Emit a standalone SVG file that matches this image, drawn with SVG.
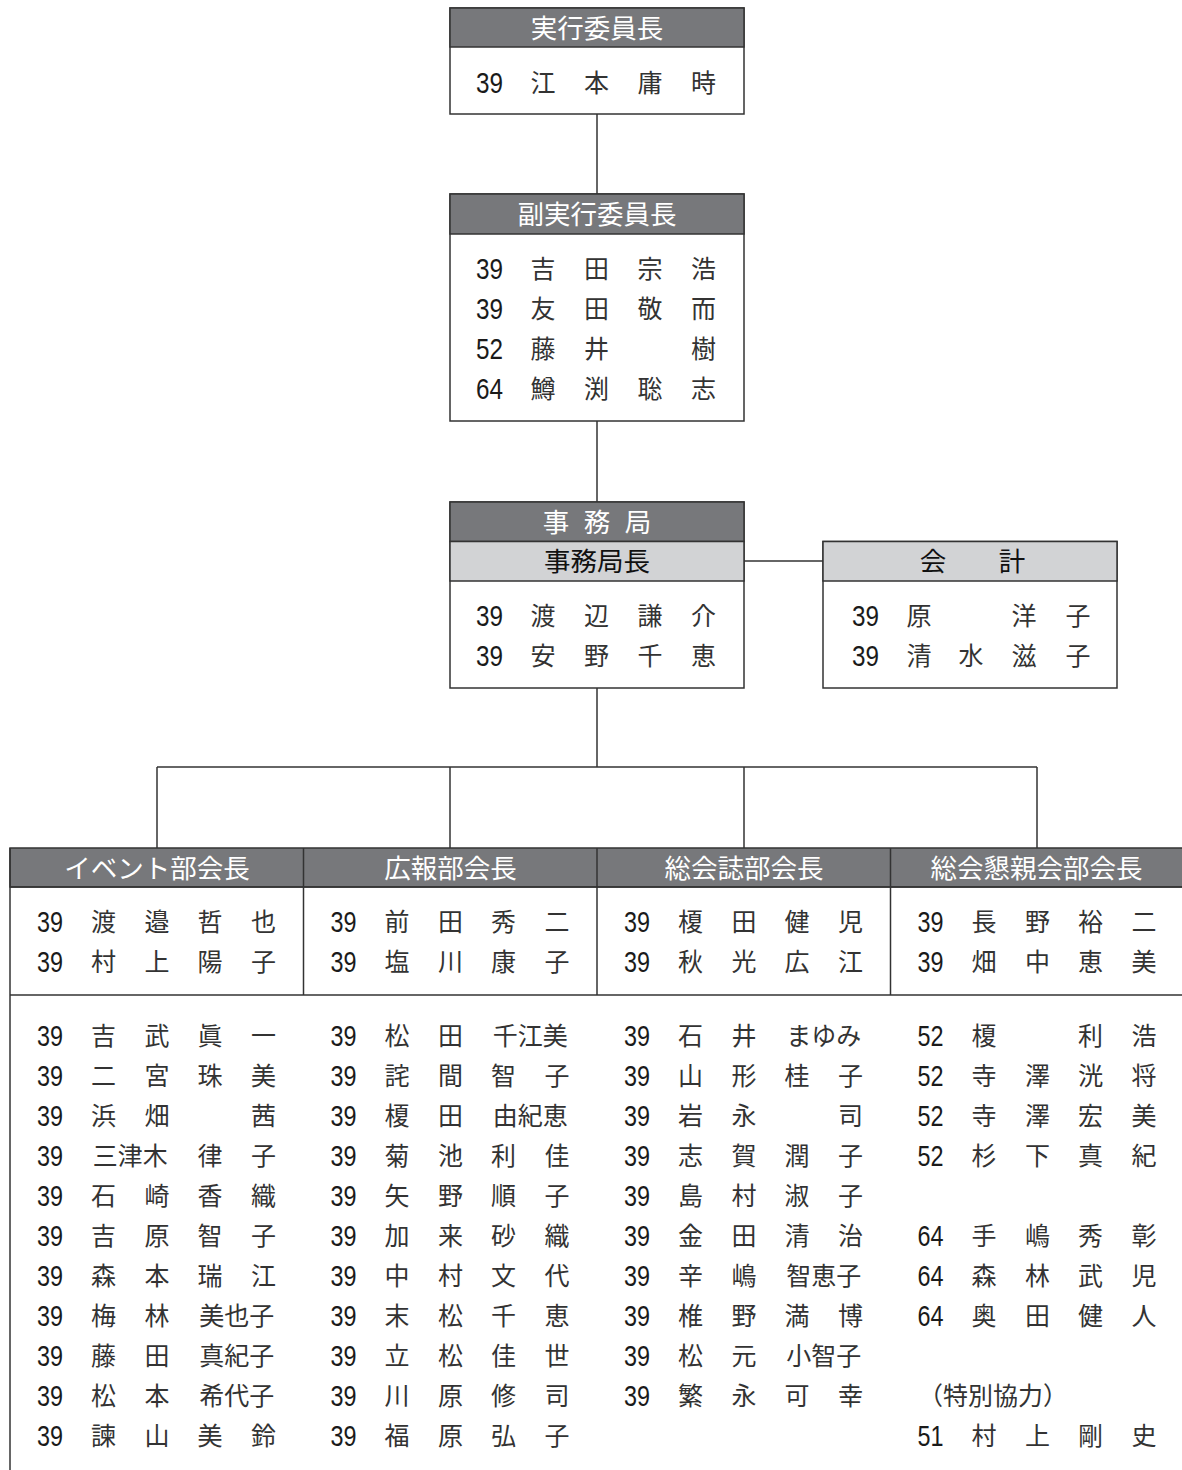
<svg xmlns="http://www.w3.org/2000/svg" width="1182" height="1470" viewBox="0 0 1182 1470">
<style>
.bg{fill:#fff}
.bx{fill:#fff;stroke:#333;stroke-width:1.5}
.hd{fill:#77787b;stroke:#333;stroke-width:1.5}
.lh{fill:#d2d3d5;stroke:#333;stroke-width:1.5}
.ln{fill:none;stroke:#333;stroke-width:1.5}
.ht{font-family:"Noto Sans CJK JP","Noto Sans CJK SC",sans-serif;font-size:26.5px;fill:#fff;text-anchor:middle}
.lt{font-family:"Noto Sans CJK JP","Noto Sans CJK SC",sans-serif;font-size:26.5px;fill:#111;text-anchor:middle}
.n{font-family:"Liberation Sans",Arial,sans-serif;font-size:30px;fill:#1a1a1a}
.k{font-family:"Noto Sans CJK JP","Noto Sans CJK SC",sans-serif;font-size:25px;fill:#333;text-anchor:middle}
.ks{font-family:"Noto Sans CJK JP","Noto Sans CJK SC",sans-serif;font-size:25px;fill:#333}
</style>
<rect class="bg" x="0" y="0" width="1182" height="1470"/>

<g id="connectors">
<line class="ln" x1="597" y1="114" x2="597" y2="194"/>
<line class="ln" x1="597" y1="421" x2="597" y2="502"/>
<line class="ln" x1="744" y1="561" x2="823" y2="561"/>
<line class="ln" x1="597" y1="688" x2="597" y2="767"/>
<line class="ln" x1="157" y1="767" x2="1037" y2="767"/>
<line class="ln" x1="157" y1="767" x2="157" y2="848"/>
<line class="ln" x1="450" y1="767" x2="450" y2="848"/>
<line class="ln" x1="744" y1="767" x2="744" y2="848"/>
<line class="ln" x1="1037" y1="767" x2="1037" y2="848"/>
</g>

<g id="chair" transform="translate(450,0)">
<rect class="bx" x="0" y="8" width="294" height="106"/>
<rect class="hd" x="0" y="8" width="294" height="39"/>
<text class="ht" x="147" y="38">実行委員長</text>
<text class="n" x="26" y="93.2" textLength="27" lengthAdjust="spacingAndGlyphs">39</text>
<text class="k" x="93 146.5 200 253.5" y="92">江本庸時</text>
</g>

<g id="vice-chair" transform="translate(450,0)">
<rect class="bx" x="0" y="194" width="294" height="227"/>
<rect class="hd" x="0" y="194" width="294" height="40"/>
<text class="ht" x="147" y="224">副実行委員長</text>
<text class="n" x="26" y="278.7" textLength="27" lengthAdjust="spacingAndGlyphs">39</text>
<text class="k" x="93 146.5 200 253.5" y="277.5">吉田宗浩</text>
<text class="n" x="26" y="318.7" textLength="27" lengthAdjust="spacingAndGlyphs">39</text>
<text class="k" x="93 146.5 200 253.5" y="317.5">友田敬而</text>
<text class="n" x="26" y="358.7" textLength="27" lengthAdjust="spacingAndGlyphs">52</text>
<text class="k" x="93 146.5 253.5" y="357.5">藤井樹</text>
<text class="n" x="26" y="398.7" textLength="27" lengthAdjust="spacingAndGlyphs">64</text>
<text class="k" x="93 146.5 200 253.5" y="397.5">鱒渕聡志</text>
</g>

<g id="secretariat" transform="translate(450,0)">
<rect class="bx" x="0" y="502" width="294" height="186"/>
<rect class="hd" x="0" y="502" width="294" height="39.5"/>
<text class="ht" x="106 147 188" y="531.5">事務局</text>
<rect class="lh" x="0" y="541.5" width="294" height="39.5"/>
<text class="lt" x="147" y="571">事務局長</text>
<text class="n" x="26" y="625.7" textLength="27" lengthAdjust="spacingAndGlyphs">39</text>
<text class="k" x="93 146.5 200 253.5" y="624.5">渡辺謙介</text>
<text class="n" x="26" y="665.7" textLength="27" lengthAdjust="spacingAndGlyphs">39</text>
<text class="k" x="93 146.5 200 253.5" y="664.5">安野千恵</text>
</g>

<g id="accounting" transform="translate(823,0)">
<rect class="bx" x="0" y="541.5" width="294" height="146.5"/>
<rect class="lh" x="0" y="541.5" width="294" height="39.5"/>
<text class="lt" x="110 189" y="571">会計</text>
<text class="n" x="29" y="625.7" textLength="27" lengthAdjust="spacingAndGlyphs">39</text>
<text class="k" x="96 201 255" y="624.5">原洋子</text>
<text class="n" x="29" y="665.7" textLength="27" lengthAdjust="spacingAndGlyphs">39</text>
<text class="k" x="96 148 201 255" y="664.5">清水滋子</text>
</g>

<g id="table-frame">
<rect class="hd" x="10" y="848" width="1180" height="39"/>
<line class="ln" x1="10" y1="887" x2="1184" y2="887"/>
<line class="ln" x1="10" y1="995" x2="1184" y2="995"/>
<line class="ln" x1="10" y1="848" x2="10" y2="1472"/>
<line class="ln" x1="303.5" y1="848" x2="303.5" y2="995"/>
<line class="ln" x1="597" y1="848" x2="597" y2="995"/>
<line class="ln" x1="890.5" y1="848" x2="890.5" y2="995"/>
</g>

<g id="event-dept" transform="translate(10,0)">
<text class="ht" x="147" y="877.5">イベント部会長</text>
<text class="n" x="27" y="931.7" textLength="26" lengthAdjust="spacingAndGlyphs">39</text><text class="k" x="93.5 147 200 253.5" y="930.5">渡邉哲也</text>
<text class="n" x="27" y="971.7" textLength="26" lengthAdjust="spacingAndGlyphs">39</text><text class="k" x="93.5 147 200 253.5" y="970.5">村上陽子</text>
<text class="n" x="27" y="1045.7" textLength="26" lengthAdjust="spacingAndGlyphs">39</text><text class="k" x="93.5 147 200 253.5" y="1044.5">吉武眞一</text>
<text class="n" x="27" y="1085.7" textLength="26" lengthAdjust="spacingAndGlyphs">39</text><text class="k" x="93.5 147 200 253.5" y="1084.5">二宮珠美</text>
<text class="n" x="27" y="1125.7" textLength="26" lengthAdjust="spacingAndGlyphs">39</text><text class="k" x="93.5 147 253.5" y="1124.5">浜畑茜</text>
<text class="n" x="27" y="1165.7" textLength="26" lengthAdjust="spacingAndGlyphs">39</text><text class="k" x="120.25" y="1164.5">三津木</text><text class="k" x="200 253.5" y="1164.5">律子</text>
<text class="n" x="27" y="1205.7" textLength="26" lengthAdjust="spacingAndGlyphs">39</text><text class="k" x="93.5 147 200 253.5" y="1204.5">石崎香織</text>
<text class="n" x="27" y="1245.7" textLength="26" lengthAdjust="spacingAndGlyphs">39</text><text class="k" x="93.5 147 200 253.5" y="1244.5">吉原智子</text>
<text class="n" x="27" y="1285.7" textLength="26" lengthAdjust="spacingAndGlyphs">39</text><text class="k" x="93.5 147 200 253.5" y="1284.5">森本瑞江</text>
<text class="n" x="27" y="1325.7" textLength="26" lengthAdjust="spacingAndGlyphs">39</text><text class="k" x="93.5 147" y="1324.5">梅林</text><text class="k" x="226.75" y="1324.5">美也子</text>
<text class="n" x="27" y="1365.7" textLength="26" lengthAdjust="spacingAndGlyphs">39</text><text class="k" x="93.5 147" y="1364.5">藤田</text><text class="k" x="226.75" y="1364.5">真紀子</text>
<text class="n" x="27" y="1405.7" textLength="26" lengthAdjust="spacingAndGlyphs">39</text><text class="k" x="93.5 147" y="1404.5">松本</text><text class="k" x="226.75" y="1404.5">希代子</text>
<text class="n" x="27" y="1445.7" textLength="26" lengthAdjust="spacingAndGlyphs">39</text><text class="k" x="93.5 147 200 253.5" y="1444.5">諫山美鈴</text>
</g>

<g id="pr-dept" transform="translate(303.5,0)">
<text class="ht" x="147" y="877.5">広報部会長</text>
<text class="n" x="27" y="931.7" textLength="26" lengthAdjust="spacingAndGlyphs">39</text><text class="k" x="93.5 147 200 253.5" y="930.5">前田秀二</text>
<text class="n" x="27" y="971.7" textLength="26" lengthAdjust="spacingAndGlyphs">39</text><text class="k" x="93.5 147 200 253.5" y="970.5">塩川康子</text>
<text class="n" x="27" y="1045.7" textLength="26" lengthAdjust="spacingAndGlyphs">39</text><text class="k" x="93.5 147" y="1044.5">松田</text><text class="k" x="226.75" y="1044.5">千江美</text>
<text class="n" x="27" y="1085.7" textLength="26" lengthAdjust="spacingAndGlyphs">39</text><text class="k" x="93.5 147 200 253.5" y="1084.5">詫間智子</text>
<text class="n" x="27" y="1125.7" textLength="26" lengthAdjust="spacingAndGlyphs">39</text><text class="k" x="93.5 147" y="1124.5">榎田</text><text class="k" x="226.75" y="1124.5">由紀恵</text>
<text class="n" x="27" y="1165.7" textLength="26" lengthAdjust="spacingAndGlyphs">39</text><text class="k" x="93.5 147 200 253.5" y="1164.5">菊池利佳</text>
<text class="n" x="27" y="1205.7" textLength="26" lengthAdjust="spacingAndGlyphs">39</text><text class="k" x="93.5 147 200 253.5" y="1204.5">矢野順子</text>
<text class="n" x="27" y="1245.7" textLength="26" lengthAdjust="spacingAndGlyphs">39</text><text class="k" x="93.5 147 200 253.5" y="1244.5">加来砂織</text>
<text class="n" x="27" y="1285.7" textLength="26" lengthAdjust="spacingAndGlyphs">39</text><text class="k" x="93.5 147 200 253.5" y="1284.5">中村文代</text>
<text class="n" x="27" y="1325.7" textLength="26" lengthAdjust="spacingAndGlyphs">39</text><text class="k" x="93.5 147 200 253.5" y="1324.5">末松千恵</text>
<text class="n" x="27" y="1365.7" textLength="26" lengthAdjust="spacingAndGlyphs">39</text><text class="k" x="93.5 147 200 253.5" y="1364.5">立松佳世</text>
<text class="n" x="27" y="1405.7" textLength="26" lengthAdjust="spacingAndGlyphs">39</text><text class="k" x="93.5 147 200 253.5" y="1404.5">川原修司</text>
<text class="n" x="27" y="1445.7" textLength="26" lengthAdjust="spacingAndGlyphs">39</text><text class="k" x="93.5 147 200 253.5" y="1444.5">福原弘子</text>
</g>

<g id="journal-dept" transform="translate(597,0)">
<text class="ht" x="147" y="877.5">総会誌部会長</text>
<text class="n" x="27" y="931.7" textLength="26" lengthAdjust="spacingAndGlyphs">39</text><text class="k" x="93.5 147 200 253.5" y="930.5">榎田健児</text>
<text class="n" x="27" y="971.7" textLength="26" lengthAdjust="spacingAndGlyphs">39</text><text class="k" x="93.5 147 200 253.5" y="970.5">秋光広江</text>
<text class="n" x="27" y="1045.7" textLength="26" lengthAdjust="spacingAndGlyphs">39</text><text class="k" x="93.5 147" y="1044.5">石井</text><text class="k" x="226.75" y="1044.5">まゆみ</text>
<text class="n" x="27" y="1085.7" textLength="26" lengthAdjust="spacingAndGlyphs">39</text><text class="k" x="93.5 147 200 253.5" y="1084.5">山形桂子</text>
<text class="n" x="27" y="1125.7" textLength="26" lengthAdjust="spacingAndGlyphs">39</text><text class="k" x="93.5 147 253.5" y="1124.5">岩永司</text>
<text class="n" x="27" y="1165.7" textLength="26" lengthAdjust="spacingAndGlyphs">39</text><text class="k" x="93.5 147 200 253.5" y="1164.5">志賀潤子</text>
<text class="n" x="27" y="1205.7" textLength="26" lengthAdjust="spacingAndGlyphs">39</text><text class="k" x="93.5 147 200 253.5" y="1204.5">島村淑子</text>
<text class="n" x="27" y="1245.7" textLength="26" lengthAdjust="spacingAndGlyphs">39</text><text class="k" x="93.5 147 200 253.5" y="1244.5">金田清治</text>
<text class="n" x="27" y="1285.7" textLength="26" lengthAdjust="spacingAndGlyphs">39</text><text class="k" x="93.5 147" y="1284.5">辛嶋</text><text class="k" x="226.75" y="1284.5">智恵子</text>
<text class="n" x="27" y="1325.7" textLength="26" lengthAdjust="spacingAndGlyphs">39</text><text class="k" x="93.5 147 200 253.5" y="1324.5">椎野満博</text>
<text class="n" x="27" y="1365.7" textLength="26" lengthAdjust="spacingAndGlyphs">39</text><text class="k" x="93.5 147" y="1364.5">松元</text><text class="k" x="226.75" y="1364.5">小智子</text>
<text class="n" x="27" y="1405.7" textLength="26" lengthAdjust="spacingAndGlyphs">39</text><text class="k" x="93.5 147 200 253.5" y="1404.5">繁永可幸</text>
</g>

<g id="social-dept" transform="translate(890.5,0)">
<text class="ht" x="146" y="877.5">総会懇親会部会長</text>
<text class="n" x="27" y="931.7" textLength="26" lengthAdjust="spacingAndGlyphs">39</text><text class="k" x="93.5 147 200 253.5" y="930.5">長野裕二</text>
<text class="n" x="27" y="971.7" textLength="26" lengthAdjust="spacingAndGlyphs">39</text><text class="k" x="93.5 147 200 253.5" y="970.5">畑中恵美</text>
<text class="n" x="27" y="1045.7" textLength="26" lengthAdjust="spacingAndGlyphs">52</text><text class="k" x="93.5 200 253.5" y="1044.5">榎利浩</text>
<text class="n" x="27" y="1085.7" textLength="26" lengthAdjust="spacingAndGlyphs">52</text><text class="k" x="93.5 147 200 253.5" y="1084.5">寺澤洸将</text>
<text class="n" x="27" y="1125.7" textLength="26" lengthAdjust="spacingAndGlyphs">52</text><text class="k" x="93.5 147 200 253.5" y="1124.5">寺澤宏美</text>
<text class="n" x="27" y="1165.7" textLength="26" lengthAdjust="spacingAndGlyphs">52</text><text class="k" x="93.5 147 200 253.5" y="1164.5">杉下真紀</text>
<text class="n" x="27" y="1245.7" textLength="26" lengthAdjust="spacingAndGlyphs">64</text><text class="k" x="93.5 147 200 253.5" y="1244.5">手嶋秀彰</text>
<text class="n" x="27" y="1285.7" textLength="26" lengthAdjust="spacingAndGlyphs">64</text><text class="k" x="93.5 147 200 253.5" y="1284.5">森林武児</text>
<text class="n" x="27" y="1325.7" textLength="26" lengthAdjust="spacingAndGlyphs">64</text><text class="k" x="93.5 147 200 253.5" y="1324.5">奥田健人</text>
<text class="ks" x="27.5" y="1404.5">（特別協力）</text>
<text class="n" x="27" y="1445.7" textLength="26" lengthAdjust="spacingAndGlyphs">51</text><text class="k" x="93.5 147 200 253.5" y="1444.5">村上剛史</text>
</g>
</svg>
